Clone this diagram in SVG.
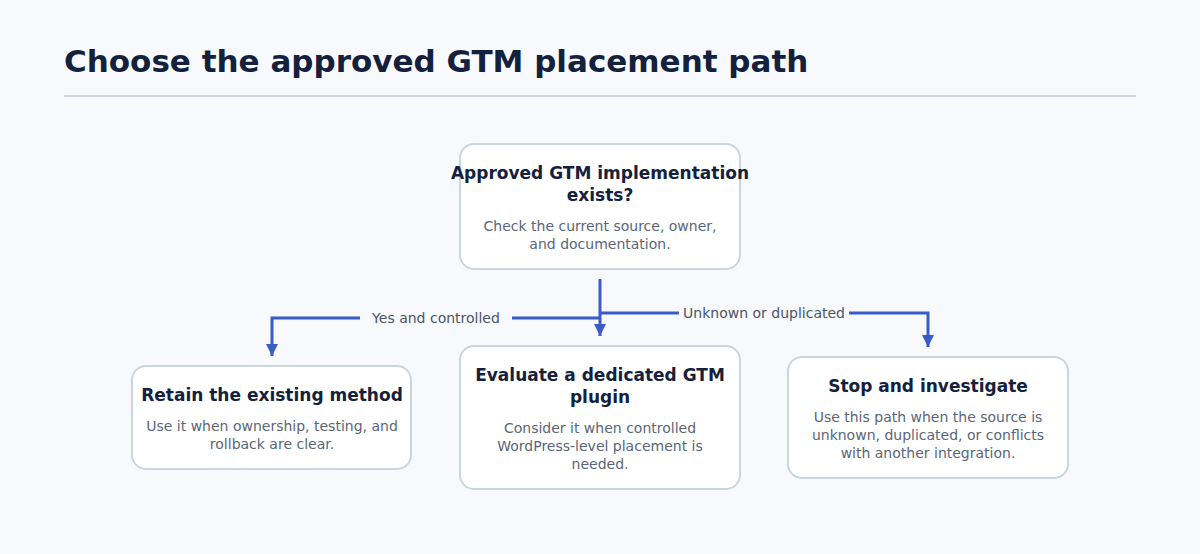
<svg xmlns="http://www.w3.org/2000/svg" width="1200" height="554" viewBox="0 0 1200 554">
<defs>
<style>
text{font-family:"DejaVu Sans",sans-serif;text-anchor:middle}
.t{font-size:17px;font-weight:bold;fill:#14213d}
.b{font-size:14px;fill:#5a6678}
.l{font-size:14px;fill:#4a5568}
.box{fill:#fff;stroke:#cbd5dc;stroke-width:2}
.c{fill:none;stroke:#3b5bc8;stroke-width:3}
</style>
<marker id="a" viewBox="0 0 10 10" refX="5" refY="9" markerWidth="10" markerHeight="10" markerUnits="userSpaceOnUse" orient="auto-start-reverse"><path d="M0,0 L10,0 L5,10 Z" transform="rotate(-90 5 5)" fill="#3b5bc8"/></marker>
<marker id="d" viewBox="0 0 12 12" refX="6" refY="12" markerWidth="12" markerHeight="12" markerUnits="userSpaceOnUse"><path d="M0,0 L12,0 L6,12 Z" fill="#3b5bc8"/></marker>
</defs>
<rect width="1200" height="554" fill="#f7f9fc"/>
<text x="64" y="72" style="font-size:31px;font-weight:bold;fill:#14213d;text-anchor:start">Choose the approved GTM placement path</text>
<line x1="64" y1="96" x2="1136" y2="96" stroke="#cfd6df" stroke-width="2"/>
<g id="connectors">
<path class="c" d="M600,279 V336" marker-end="url(#d)"/>
<path class="c" d="M600,318 H272 V356" marker-end="url(#d)"/>
<path class="c" d="M600,313 H928 V347" marker-end="url(#d)"/>
<rect x="360" y="306" width="152" height="24" fill="#f7f9fc"/>
<text class="l" x="436" y="323">Yes and controlled</text>
<rect x="679" y="301" width="170" height="24" fill="#f7f9fc"/>
<text class="l" x="764" y="318">Unknown or duplicated</text>
</g>
<g id="n1"><rect class="box" x="460" y="144" width="280" height="125" rx="14"/>
<text class="t" x="600" y="179">Approved GTM implementation</text><text class="t" x="600" y="201">exists?</text>
<text class="b" x="600" y="231">Check the current source, owner,</text><text class="b" x="600" y="249">and documentation.</text></g>
<g id="n2"><rect class="box" x="132" y="366" width="279" height="103" rx="14"/>
<text class="t" x="272" y="401">Retain the existing method</text>
<text class="b" x="272" y="431">Use it when ownership, testing, and</text><text class="b" x="272" y="449">rollback are clear.</text></g>
<g id="n3"><rect class="box" x="460" y="346" width="280" height="143" rx="14"/>
<text class="t" x="600" y="381">Evaluate a dedicated GTM</text><text class="t" x="600" y="403">plugin</text>
<text class="b" x="600" y="433">Consider it when controlled</text><text class="b" x="600" y="451">WordPress-level placement is</text><text class="b" x="600" y="469">needed.</text></g>
<g id="n4"><rect class="box" x="788" y="357" width="280" height="121" rx="14"/>
<text class="t" x="928" y="392">Stop and investigate</text>
<text class="b" x="928" y="422">Use this path when the source is</text><text class="b" x="928" y="440">unknown, duplicated, or conflicts</text><text class="b" x="928" y="458">with another integration.</text></g>
</svg>
